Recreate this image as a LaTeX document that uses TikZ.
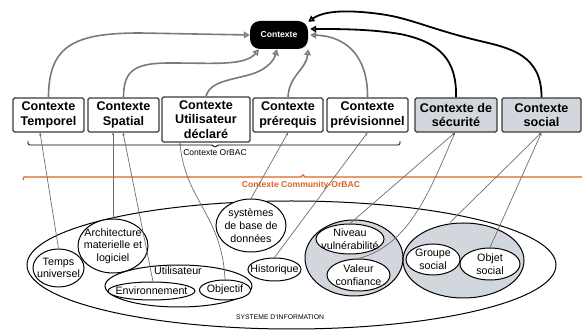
\documentclass[tikz,border=0pt]{standalone}
\usepackage{fontspec}
\setmainfont{Liberation Sans}
\usetikzlibrary{shapes.geometric,arrows.meta}
\definecolor{arrgray}{HTML}{7A7A7A}
\definecolor{lingray}{HTML}{6E6E6E}
\definecolor{boxgray}{HTML}{D2D6DD}
\definecolor{boxborder}{HTML}{3A3A3A}
\definecolor{orbac}{HTML}{D9641E}
\begin{document}
\begin{tikzpicture}[x=1pt,y=-1pt,
  ctxbox/.style={fill=black, rounded corners=10pt, minimum width=58pt, minimum height=28pt, text=white, inner sep=0pt, font=\fontsize{8.6}{10}\selectfont\bfseries},
  cbox/.style={draw=boxborder, line width=1.1pt, rounded corners=1.5pt, fill=white, font=\fontsize{12.6}{14.5}\selectfont\bfseries, align=center, inner sep=0pt, minimum height=34pt},
  ell/.style={ellipse, draw=black, line width=1pt, fill=white, inner sep=0pt},
  etext/.style={align=center, inner sep=0pt, font=\fontsize{10.7}{12.7}\selectfont},
  up/.style={draw=arrgray, line width=1.6pt, -{Triangle[open,length=6pt,width=6.5pt]}},
  upb/.style={draw=black, line width=1.8pt, -{Triangle[open,length=6pt,width=6.5pt]}},
  dn/.style={draw=lingray, line width=0.7pt, -{Stealth[length=3pt,width=2.5pt]}}]
\useasboundingbox (0,0) rectangle (582,331);

% top node
\node[ctxbox] (ctx) at (279,35) {Contexte};

% context boxes
\node[cbox, minimum width=71pt] (tempo) at (48.5,115) {Contexte\\Temporel};
\node[cbox, minimum width=71pt] (spat) at (123.5,115) {Contexte\\Spatial};
\node[cbox, minimum width=88pt, minimum height=45pt] (util) at (206,119.5) {Contexte\\Utilisateur\\déclaré};
\node[cbox, minimum width=70pt] (prereq) at (288,115) {Contexte\\prérequis};
\node[cbox, minimum width=81pt] (previs) at (367.5,115) {Contexte\\prévisionnel};
\node[cbox, fill=boxgray, minimum width=82pt] (secu) at (456,115) {Contexte de\\sécurité};
\node[cbox, fill=boxgray, minimum width=79pt] (soc) at (541.5,115) {Contexte\\social};

% brace OrBAC
\draw[line width=0.9pt, rounded corners=1.5pt] (28,141) -- (28,145) -- (213,145) -- (215,148) -- (217,145) -- (400,145) -- (400,141);
\node[font=\fontsize{8.5}{10}\selectfont] (orbaclab) at (215,152.5) {Contexte OrBAC};

% community line
\draw[orbac, line width=1.2pt] (23,180) -- (24,177) -- (301,177) -- (303,175) -- (305,177) -- (582,177);
\node[text=orbac, font=\fontsize{8.6}{10}\selectfont\bfseries] (comlab) at (301,185.5) {Contexte Community-OrBAC};

% information system
\node[ell, minimum width=529pt, minimum height=128pt] (si) at (291.5,265) {};
\node[font=\fontsize{6.8}{8}\selectfont] (silab) at (280,317) {SYSTEME D'INFORMATION};

\node[ell, minimum width=51pt, minimum height=38pt] (tu) at (58.5,268) {};
\node[etext] at (tu.center) {Temps\\universel};
\node[ell, minimum width=70pt, minimum height=54pt] (arch) at (113,246) {};
\node[etext] at (arch.center) {Architecture\\materielle et\\logiciel};
\node[ell, minimum width=147pt, minimum height=42pt] (user) at (178.5,286) {};
\node[etext] (userlab) at (178,271) {Utilisateur};
\node[ell, minimum width=87pt, minimum height=18pt] (env) at (151.5,291) {};
\node[etext] at (env.center) {Environnement};
\node[ell, minimum width=51pt, minimum height=20pt] (objf) at (225,290) {};
\node[etext] at (objf.center) {Objectif};
\node[ell, minimum width=70pt, minimum height=53pt] (sgbd) at (251,225.5) {};
\node[etext] at (sgbd.center) {systèmes\\de base de\\données};
\node[ell, minimum width=53pt, minimum height=23pt] (hist) at (274.5,269.5) {};
\node[etext] at (hist.center) {Historique};

\node[ell, fill=boxgray, minimum width=98pt, minimum height=76pt] (secg) at (354,258) {};
\node[ell, minimum width=68pt, minimum height=30pt] (niv) at (350,239) {};
\node[etext] at (niv.center) {Niveau\\vulnérabilité};
\node[ell, minimum width=63pt, minimum height=32pt] (val) at (358.5,275) {};
\node[etext] at (val.center) {Valeur\\confiance};

\node[ell, fill=boxgray, minimum width=121pt, minimum height=75pt] (socg) at (463.5,260.5) {};
\node[ell, minimum width=54pt, minimum height=31pt] (grp) at (433,259.5) {};
\node[etext] at (grp.center) {Groupe\\social};
\node[ell, minimum width=60pt, minimum height=32pt] (obj) at (490,264) {};
\node[etext] at (obj.center) {Objet\\social};

% lower connectors
\draw[dn] (tu.north) -- ([xshift=-8.5pt]tempo.south);
\draw[dn] (arch.north) -- ([xshift=-10.5pt]spat.south);
\draw[dn] ([xshift=1.5pt]env.north) -- ([xshift=-0.5pt]spat.south);
\draw[dn] (objf.north) .. controls (222,215) and (185,200) .. ([xshift=-26pt]util.south);
\draw[dn] (sgbd.north) -- (prereq.south);
\draw[dn] (hist.north) -- (previs.south);
\draw[dn] (niv.north) -- ([xshift=-1pt]secu.south);
\draw[dn] (val.north) .. controls (410,245) and (430,190) .. ([xshift=-1pt]secu.south);
\draw[dn] ([xshift=-13.5pt]socg.north) -- (soc.south);
\draw[dn] (obj.north) -- (soc.south);

% upper arrows
\draw[up] (tempo.north) .. controls (48.5,45) and (75,33) .. (140,33) -- (ctx.west);
\draw[up] (spat.north) .. controls (123.5,70) and (135,63) .. (170,63) .. controls (215,63) and (245,66) .. ([xshift=-20pt]ctx.south);
\draw[up] (util.north) .. controls (210,80) and (235,80) .. (255,73) .. controls (268,68) and (274,60) .. ([xshift=-2pt]ctx.south);
\draw[up] (prereq.north) .. controls (289,75) and (306,70) .. (ctx.south east);
\draw[up] (previs.north) .. controls (368,55) and (345,36) .. ([xshift=2pt]ctx.east);
\draw[upb] (secu.north) .. controls (457,60) and (440,42) .. (400,34) .. controls (370,29) and (340,29) .. ([xshift=2pt,yshift=6pt]ctx.east);
\draw[upb] (soc.north) .. controls (542,55) and (510,48) .. (480,41) .. controls (430,29) and (410,18) .. (380,14) .. controls (350,10) and (325,10) .. ([yshift=-1pt]ctx.north east);
\end{tikzpicture}
\end{document}
